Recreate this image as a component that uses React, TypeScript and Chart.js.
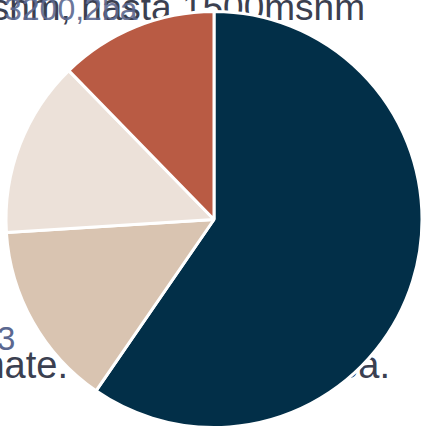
import React, { useEffect, useRef } from "react";
import { Chart, registerables } from "chart.js";

Chart.register(...registerables);

const categories = ["Zona alta", "Zona media-baja", "Zona media", "Zona de páramo"];
const shares = [59.6, 14.4, 13.7, 12.3];
const sliceColors = ["#022f48", "#d9c4b1", "#ece1d9", "#b95b44"];

const textBase: React.CSSProperties = {
  position: "absolute",
  fontFamily: "'Liberation Sans', Arial, sans-serif",
  whiteSpace: "nowrap",
  margin: 0,
};

export default function App() {
  const ref = useRef<HTMLCanvasElement | null>(null);
  useEffect(() => {
    if (!ref.current) return;
    const chart = new Chart(ref.current, {
      type: "pie",
      data: {
        labels: categories,
        datasets: [
          {
            data: shares,
            backgroundColor: sliceColors,
            borderColor: "#ffffff",
            borderWidth: 3,
            hoverOffset: 0,
          },
        ],
      },
      options: {
        animation: false,
        responsive: false,
        maintainAspectRatio: false,
        layout: { padding: { left: 4, right: 0, top: 10, bottom: 0 } },
        plugins: { legend: { display: false }, tooltip: { enabled: false } },
      },
    });
    return () => chart.destroy();
  }, []);

  return (
    <div style={{ position: "fixed", left: 0, top: 0, width: 421, height: 426, overflow: "hidden", background: "#fff" }}>
      <div style={{ ...textBase, right: 56, top: -11, fontSize: 37, lineHeight: "37px", color: "#3b4050" }}>
        1200msnm, hasta 1500msnm
      </div>
      <div style={{ ...textBase, left: 4, top: -7, fontSize: 32, lineHeight: "32px", color: "#5b6890", opacity: 0.9 }}>
        3200,2ba
      </div>
      <div style={{ ...textBase, left: -3, top: 322, fontSize: 33, lineHeight: "33px", color: "#5b6890" }}>
        3
      </div>
      <div style={{ ...textBase, right: 353, top: 346, fontSize: 38, lineHeight: "38px", color: "#3b4050" }}>
        aproximate.
      </div>
      <div style={{ ...textBase, right: 31, top: 346, fontSize: 38, lineHeight: "38px", color: "#3b4050" }}>
        área.
      </div>
      <canvas ref={ref} width={424} height={429} style={{ position: "absolute", left: 0, top: 0 }} />
    </div>
  );
}
